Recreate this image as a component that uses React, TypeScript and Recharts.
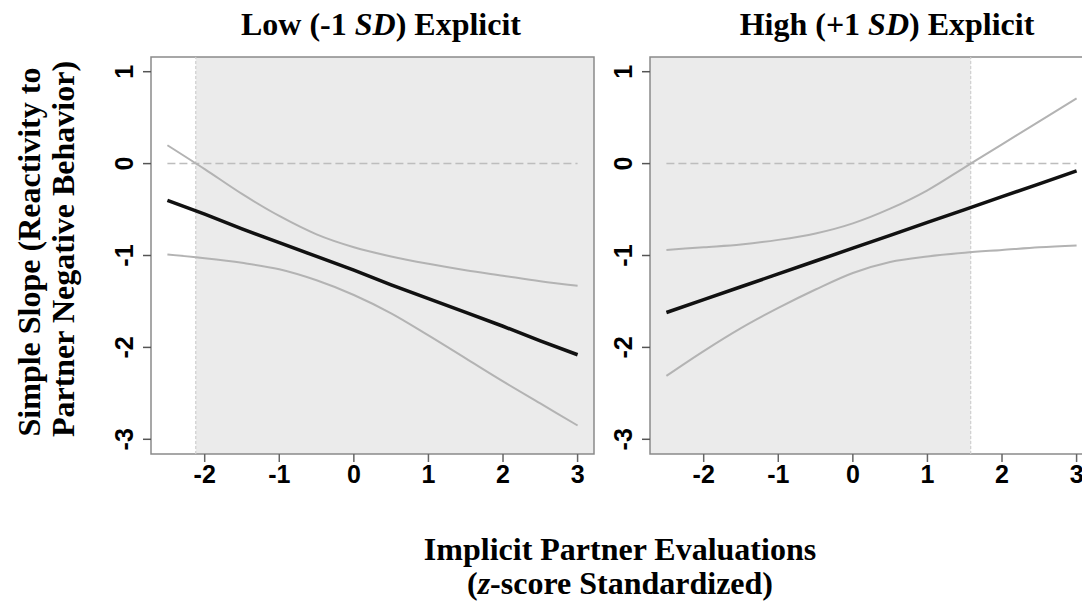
import React from "react";
import {
  LineChart,
  Line,
  XAxis,
  YAxis,
  ReferenceArea,
  ReferenceLine,
} from "recharts";

// implicit partner evaluations (z-scores) where the slopes were computed
const xValues = [-2.5, -2, -1.5, -1, -0.5, 0, 0.5, 1, 1.5, 2, 2.5, 3];

// Low (-1 SD) explicit
const lowEstimate = [-0.4, -0.55, -0.71, -0.86, -1.01, -1.16, -1.32, -1.47, -1.62, -1.77, -1.93, -2.08];
const lowUpper = [0.2, -0.06, -0.33, -0.57, -0.77, -0.91, -1.01, -1.09, -1.16, -1.22, -1.28, -1.33];
const lowLower = [-0.99, -1.03, -1.08, -1.15, -1.27, -1.43, -1.63, -1.87, -2.12, -2.37, -2.61, -2.85];

// High (+1 SD) explicit
const highEstimate = [-1.62, -1.48, -1.34, -1.2, -1.06, -0.92, -0.78, -0.64, -0.5, -0.36, -0.22, -0.08];
const highUpper = [-0.94, -0.91, -0.88, -0.83, -0.76, -0.65, -0.49, -0.29, -0.04, 0.21, 0.46, 0.71];
const highLower = [-2.31, -2.04, -1.79, -1.57, -1.37, -1.19, -1.07, -1.01, -0.97, -0.94, -0.91, -0.89];

// region of significance (x range)
const lowRegion = [-2.12, 3.22];
const highRegion = [-2.72, 1.58];

const xTicks = [-2, -1, 0, 1, 2, 3];
const yTicks = [-3, -2, -1, 0, 1];
const xDomain = [-2.72, 3.22];
const yDomain = [-3.16, 1.16];

const BOX = "#8a8a8a";
const TICK_FONT = "'Liberation Sans', Arial, sans-serif";
const TITLE_FONT = "'Liberation Serif', 'Times New Roman', serif";

const makeRows = (est: number[], up: number[], lo: number[]) =>
  xValues.map((x, i) => ({ x, est: est[i], upper: up[i], lower: lo[i] }));

const XTick = (props: any) => (
  <text
    x={props.x}
    y={props.y + 19}
    textAnchor="middle"
    fontFamily={TICK_FONT}
    fontWeight="bold"
    fontSize={25}
    fill="#000"
  >
    {props.payload.value}
  </text>
);

const YTick = (props: any) => {
  const x = props.x - 8;
  const y = props.y;
  return (
    <text
      x={x}
      y={y}
      transform={`rotate(-90 ${x} ${y})`}
      textAnchor="middle"
      fontFamily={TICK_FONT}
      fontWeight="bold"
      fontSize={25}
      fill="#000"
    >
      {props.payload.value}
    </text>
  );
};

type PanelProps = {
  rows: any[];
  region: number[];
  left: number;
  width: number;
};

const Panel = ({ rows, region, left, width }: PanelProps) => (
  <div style={{ position: "absolute", left: 0, top: 0 }}>
    <LineChart
      width={width}
      height={500}
      data={rows}
      margin={{ top: 57, right: 6, bottom: 6, left: left - 40 }}
    >
      <XAxis
        type="number"
        dataKey="x"
        domain={xDomain}
        ticks={xTicks}
        allowDataOverflow
        axisLine={false}
        tickLine={{ stroke: "#666", strokeWidth: 1.5 }}
        tickSize={8}
        height={40}
        tick={<XTick />}
      />
      <YAxis
        type="number"
        domain={yDomain}
        ticks={yTicks}
        allowDataOverflow
        axisLine={false}
        tickLine={{ stroke: "#555", strokeWidth: 1.5 }}
        tickSize={8}
        width={40}
        tick={<YTick />}
      />
      <ReferenceArea
        x1={region[0]}
        x2={region[1]}
        y1={yDomain[0]}
        y2={yDomain[1]}
        fill="#ebebeb"
        fillOpacity={1}
        stroke="none"
      />
      {region.map((r, i) =>
        r > xDomain[0] && r < xDomain[1] ? (
          <ReferenceLine
            key={i}
            x={r}
            stroke="#cfcfcf"
            strokeWidth={1.2}
            strokeDasharray="3 2"
          />
        ) : null
      )}
      <ReferenceLine
        segment={[
          { x: xValues[0], y: 0 },
          { x: xValues[xValues.length - 1], y: 0 },
        ]}
        stroke="#bdbdbd"
        strokeWidth={1.5}
        strokeDasharray="8 4"
      />
      <Line
        type="monotone"
        dataKey="upper"
        stroke="#b3b3b3"
        strokeWidth={2}
        dot={false}
        isAnimationActive={false}
      />
      <Line
        type="monotone"
        dataKey="lower"
        stroke="#b3b3b3"
        strokeWidth={2}
        dot={false}
        isAnimationActive={false}
      />
      <Line
        type="linear"
        dataKey="est"
        stroke="#111"
        strokeWidth={3.5}
        dot={false}
        isAnimationActive={false}
      />
      <ReferenceArea
        x1={xDomain[0]}
        x2={xDomain[1]}
        y1={yDomain[0]}
        y2={yDomain[1]}
        fill="none"
        stroke={BOX}
        strokeWidth={1.5}
      />
    </LineChart>
  </div>
);

const titleStyle = {
  fontFamily: TITLE_FONT,
  fontWeight: "bold" as const,
  fontSize: 32,
  fill: "#000",
};

export default function App() {
  return (
    <div
      style={{
        position: "absolute",
        left: 0,
        top: 0,
        width: 1082,
        height: 603,
        overflow: "hidden",
        background: "#fff",
      }}
    >
      <Panel rows={makeRows(lowEstimate, lowUpper, lowLower)} region={lowRegion} left={151} width={600} />
      <Panel rows={makeRows(highEstimate, highUpper, highLower)} region={highRegion} left={650} width={1099} />
      <svg
        width={1082}
        height={603}
        style={{ position: "absolute", left: 0, top: 0, pointerEvents: "none" }}
      >
        <text x={381} y={35} textAnchor="middle" {...titleStyle}>
          Low (-1 <tspan fontStyle="italic">SD</tspan>) Explicit
        </text>
        <text x={887} y={35} textAnchor="middle" {...titleStyle}>
          High (+1 <tspan fontStyle="italic">SD</tspan>) Explicit
        </text>
        <text transform="translate(40 252) rotate(-90)" textAnchor="middle" {...titleStyle}>
          Simple Slope (Reactivity to
        </text>
        <text transform="translate(74 249) rotate(-90)" textAnchor="middle" {...titleStyle}>
          Partner Negative Behavior)
        </text>
        <text x={620} y={560} textAnchor="middle" {...titleStyle}>
          Implicit Partner Evaluations
        </text>
        <text x={620} y={594} textAnchor="middle" {...titleStyle}>
          (<tspan fontStyle="italic">z</tspan>-score Standardized)
        </text>
      </svg>
    </div>
  );
}
